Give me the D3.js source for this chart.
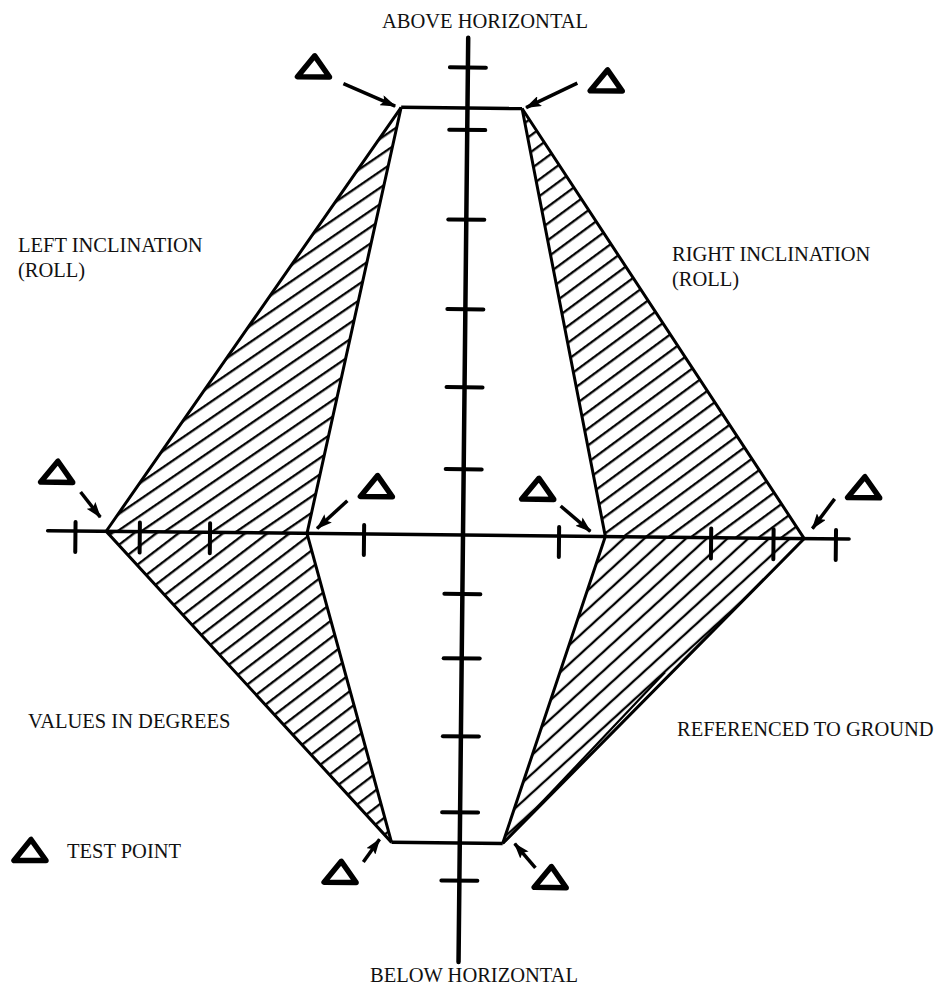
<!DOCTYPE html>
<html>
<head>
<meta charset="utf-8">
<script src="https://cdn.jsdelivr.net/npm/d3@7"></script>
<style>
  body { margin: 0; background: #fff; }
  text { font-family: "Liberation Serif", "Times New Roman", serif; font-size: 20.5px; fill: #111; }
</style>
</head>
<body>
<script>
// roll (x) and pitch (y), in degrees
const rollTicks = [-19.9, -16.6, -13.0, -5.1, 4.9, 12.7, 15.9, 19.1];
const pitchTicks = [24.0, 20.8, 16.2, 11.6, 7.6, 3.4, -3.0, -6.3, -10.3, -14.2, -17.7];
const rollExtent = [-21.3, 19.8];
const pitchExtent = [-21.9, 25.5];

// envelope corners
const outerRoll = [-18.3, 17.5];
const innerRoll = [-8.0, 7.3];
const abovePitch = 21.9;
const aboveRoll = [-3.4, 2.8];
const belowPitch = -15.8;
const belowRoll = [-3.5, 2.2];

// test points (roll, pitch)
const testPoints = [
  [aboveRoll[0], abovePitch], [aboveRoll[1], abovePitch],
  [outerRoll[0], 0], [innerRoll[0], 0],
  [innerRoll[1], 0], [outerRoll[1], 0],
  [belowRoll[0], belowPitch], [belowRoll[1], belowPitch]
];

const topLabels = ["ABOVE HORIZONTAL", "BELOW HORIZONTAL"];
const sideLabels = [["LEFT INCLINATION", "(ROLL)"], ["RIGHT INCLINATION", "(ROLL)"]];
const noteLabels = ["VALUES IN DEGREES", "REFERENCED TO GROUND"];
const legendLabel = "TEST POINT";

const width = 944, height = 986;

const svg = d3.select("body").append("svg")
    .attr("width", width)
    .attr("height", height);

const x = d3.scaleLinear().domain([-20, 20]).range([73, 853]);
const y = d3.scaleLinear().domain([-20, 20]).range([925, 145]);

const defs = svg.append("defs");

// hatch patterns, one angle per region (hand drawn look)
const hatchAngles = [35, 38, 37, 43];
hatchAngles.forEach((a, i) => {
  const p = defs.append("pattern")
      .attr("id", "hatch" + i)
      .attr("patternUnits", "userSpaceOnUse")
      .attr("width", 12)
      .attr("height", i === 3 ? 14 : 13.5)
      .attr("patternTransform", `rotate(${-a})`);
  p.append("path")
      .attr("d", "M-2,6 H14")
      .attr("stroke", "#000")
      .attr("stroke-width", 2.3);
});

defs.append("marker")
    .attr("id", "head")
    .attr("markerUnits", "userSpaceOnUse")
    .attr("viewBox", "0 0 16 11")
    .attr("refX", 15).attr("refY", 5.5)
    .attr("markerWidth", 16).attr("markerHeight", 11)
    .attr("orient", "auto")
  .append("path")
    .attr("d", "M0,0 L16,5.5 L0,11 L3,5.5 Z")
    .attr("fill", "#000");

// the scan is turned a little clockwise
const g = svg.append("g")
    .attr("transform", `rotate(0.6, ${x(0)}, ${y(0)})`);

const pt = d => [x(d[0]), y(d[1])];

// hatched regions
const regions = [
  [[aboveRoll[0], abovePitch], [outerRoll[0], 0], [innerRoll[0], 0]],
  [[outerRoll[0], 0], [innerRoll[0], 0], [belowRoll[0], belowPitch]],
  [[aboveRoll[1], abovePitch], [innerRoll[1], 0], [outerRoll[1], 0]],
  [[innerRoll[1], 0], [outerRoll[1], 0], [belowRoll[1], belowPitch]]
];

g.selectAll(".region")
  .data(regions)
  .enter().append("path")
    .attr("class", "region")
    .attr("d", d => "M" + d.map(pt).join("L") + "Z")
    .attr("fill", (d, i) => `url(#hatch${i})`)
    .attr("stroke", "none");

// envelope outline
const line = d3.line().x(d => x(d[0])).y(d => y(d[1]));
const edges = [
  [[aboveRoll[0], abovePitch], [aboveRoll[1], abovePitch]],
  [[belowRoll[0], belowPitch], [belowRoll[1], belowPitch]],
  [[aboveRoll[0], abovePitch], [outerRoll[0], 0], [belowRoll[0], belowPitch]],
  [[aboveRoll[0], abovePitch], [innerRoll[0], 0], [belowRoll[0], belowPitch]],
  [[aboveRoll[1], abovePitch], [outerRoll[1], 0], [belowRoll[1], belowPitch]],
  [[aboveRoll[1], abovePitch], [innerRoll[1], 0], [belowRoll[1], belowPitch]]
];
g.selectAll(".edge")
  .data(edges)
  .enter().append("path")
    .attr("class", "edge")
    .attr("d", line)
    .attr("fill", "none")
    .attr("stroke", "#000")
    .attr("stroke-width", (d, i) => i < 2 ? 3.5 : 3)
    .attr("stroke-linejoin", "miter");

// doubled stroke along the lower right outer edge
const lrA = pt([belowRoll[1], belowPitch]), lrB = pt([outerRoll[1], 0]);
const lrLen = Math.hypot(lrB[0] - lrA[0], lrB[1] - lrA[1]);
const nx = -(lrB[1] - lrA[1]) / lrLen, ny = (lrB[0] - lrA[0]) / lrLen;
g.append("line")
    .attr("x1", lrA[0] + 2).attr("y1", lrA[1] - 2)
    .attr("x2", lrA[0] + (lrB[0] - lrA[0]) * 0.55 - nx * 5)
    .attr("y2", lrA[1] + (lrB[1] - lrA[1]) * 0.55 - ny * 5)
    .attr("stroke", "#000").attr("stroke-width", 2.2);

// axes
g.append("line")
    .attr("x1", x(rollExtent[0])).attr("x2", x(rollExtent[1]))
    .attr("y1", y(0)).attr("y2", y(0))
    .attr("stroke", "#000").attr("stroke-width", 3.5).attr("stroke-linecap", "round");
g.append("line")
    .attr("x1", x(0)).attr("x2", x(0))
    .attr("y1", y(pitchExtent[1])).attr("y2", y(pitchExtent[0]))
    .attr("stroke", "#000").attr("stroke-width", 4.5).attr("stroke-linecap", "round");

const xAxis = g.append("g")
    .attr("transform", `translate(0, ${y(0) - 9})`)
    .call(d3.axisBottom(x).tickValues(rollTicks).tickSize(30).tickFormat(""));
const yAxis = g.append("g")
    .attr("transform", `translate(${x(0) + 18}, 0)`)
    .call(d3.axisLeft(y).tickValues(pitchTicks).tickSize(36).tickFormat(""));
[xAxis, yAxis].forEach(a => {
  a.select(".domain").remove();
  a.selectAll(".tick line")
    .attr("stroke", "#000")
    .attr("stroke-width", 4)
    .attr("stroke-linecap", "round");
});

// test point markers: triangle offset, arrow tail, arrow tip (px from the point)
const markerLayout = [
  { tri: [-88, -40], tail: [-58, -23], tip: [-6, -1] },
  { tri: [84, -29], tail: [55, -26], tip: [4, -1] },
  { tri: [-50, -59], tail: [-26, -39], tip: [-6, -14] },
  { tri: [69, -48], tail: [40, -33], tip: [10, -5] },
  { tri: [-68, -47], tail: [-45, -30], tip: [-15, -5] },
  { tri: [59, -52], tail: [30, -40], tip: [8, -10] },
  { tri: [-51, 30], tail: [-28, 20], tip: [-12, -3] },
  { tri: [48, 33], tail: [33, 24], tip: [12, 0] }
];

const triPath = "M-16,10.5 L16,10.5 L1,-10.5 Z";

const markers = g.selectAll(".tp")
  .data(testPoints)
  .enter().append("g")
    .attr("class", "tp");

markers.append("path")
    .attr("d", triPath)
    .attr("transform", (d, i) => `translate(${x(d[0]) + markerLayout[i].tri[0]}, ${y(d[1]) + markerLayout[i].tri[1]})`)
    .attr("fill", "none")
    .attr("stroke", "#000")
    .attr("stroke-width", 5.5)
    .attr("stroke-linejoin", "round");

markers.append("line")
    .attr("x1", (d, i) => x(d[0]) + markerLayout[i].tail[0])
    .attr("y1", (d, i) => y(d[1]) + markerLayout[i].tail[1])
    .attr("x2", (d, i) => x(d[0]) + markerLayout[i].tip[0])
    .attr("y2", (d, i) => y(d[1]) + markerLayout[i].tip[1])
    .attr("stroke", "#000")
    .attr("stroke-width", 3.5)
    .attr("marker-end", "url(#head)");

// labels
svg.append("text").attr("x", 485).attr("y", 28).attr("text-anchor", "middle").text(topLabels[0]);
svg.append("text").attr("x", 474).attr("y", 982).attr("text-anchor", "middle").text(topLabels[1]);

sideLabels.forEach((lines, i) => {
  const t = svg.append("text")
      .attr("x", i === 0 ? 18 : 672)
      .attr("y", i === 0 ? 252 : 261);
  lines.forEach((s, j) => {
    t.append("tspan").attr("x", i === 0 ? 18 : 672).attr("dy", j === 0 ? 0 : 25).text(s);
  });
});

svg.append("text").attr("x", 28).attr("y", 728).text(noteLabels[0]);
svg.append("text").attr("x", 677).attr("y", 736).text(noteLabels[1]);

svg.append("path")
    .attr("d", triPath)
    .attr("transform", "translate(30, 850)")
    .attr("fill", "none")
    .attr("stroke", "#000")
    .attr("stroke-width", 5.5)
    .attr("stroke-linejoin", "round");
svg.append("text").attr("x", 67).attr("y", 858).text(legendLabel);
</script>
</body>
</html>
